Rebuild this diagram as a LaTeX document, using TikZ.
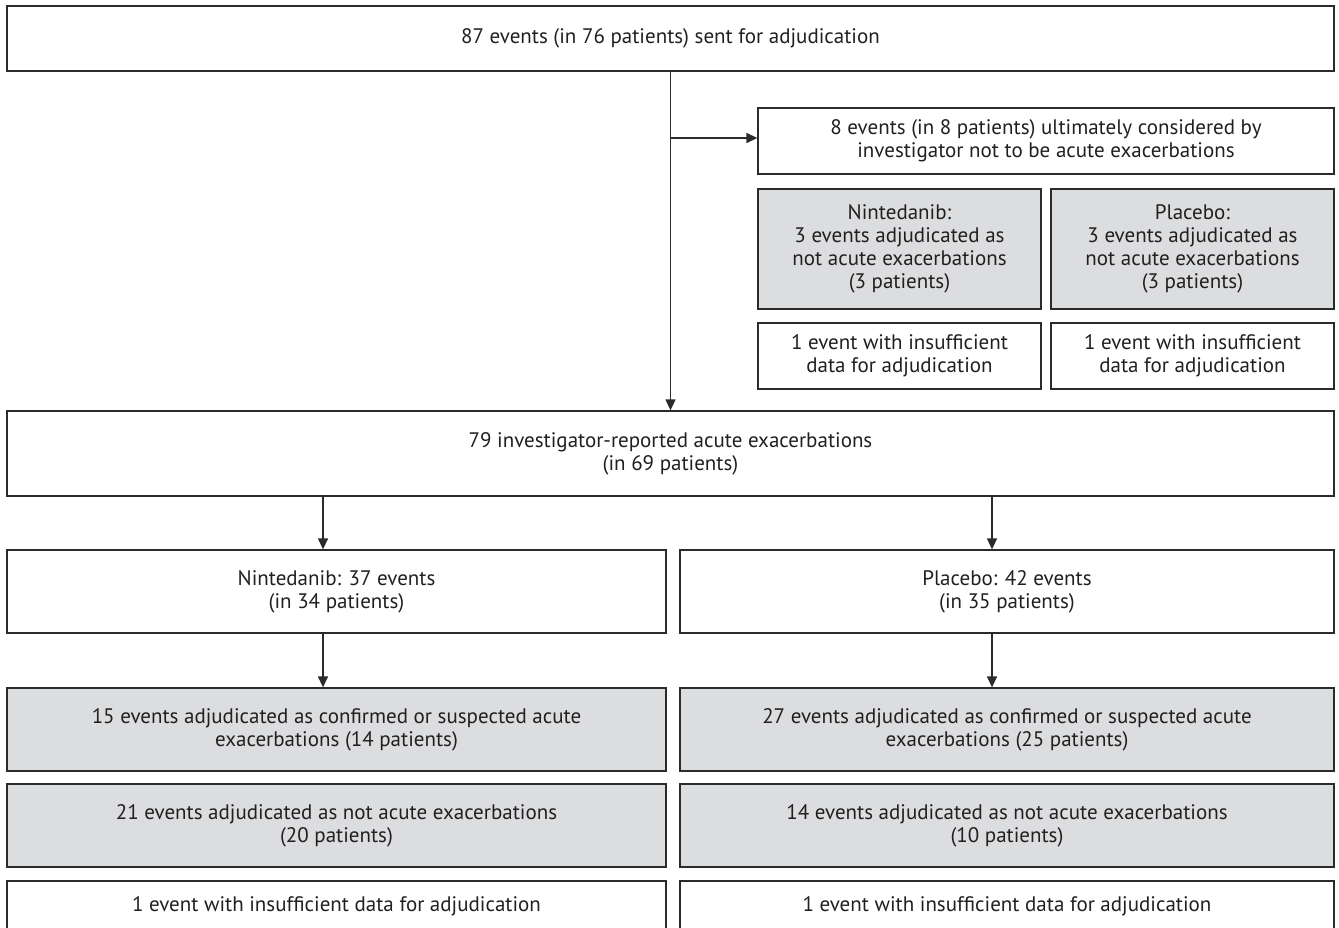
\documentclass[tikz,border=0pt]{standalone}
\usepackage{fontspec}
\setmainfont{PT Sans}
\usetikzlibrary{arrows.meta}
\definecolor{boxline}{HTML}{2B2B2B}
\definecolor{boxgray}{HTML}{DCDDDF}
\definecolor{boxtext}{HTML}{231F20}
\begin{document}
\begin{tikzpicture}[
	x=1pt, y=-1pt,
	cell/.style={
		rectangle,
		draw=boxline,
		line width=1.3pt,
		align=center,
		text=boxtext,
		inner sep=0pt,
		font=\fontsize{21}{23}\selectfont
	},
	wide/.style={cell, minimum width=1327, minimum height=#1},
	half/.style={cell, minimum width=659, minimum height=#1},
	halfR/.style={cell, minimum width=654, minimum height=#1},
	side/.style={cell, minimum width=283, minimum height=#1},
	shaded/.style={fill=boxgray},
	ArrowC1/.style={% plain connectors with a filled head
		-{Triangle[length=11pt,width=10pt]},
		draw=boxline,
		line width=1.3pt,
	},
]
	\useasboundingbox (0,0) rectangle (1339,928);
	\clip (0,0) rectangle (1339,928);

	\node [wide=65] (sent) at (670.5,38.5) {87 events (in 76 patients) sent for adjudication};

	\node [cell, minimum width=576, minimum height=66] (excl) at (1046,141) {8 events (in 8 patients) ultimately considered by\\investigator not to be acute exacerbations};
	\node [side=120, shaded] (exclN) at (899.5,249) {Nintedanib:\\3 events adjudicated as\\not acute exacerbations\\(3 patients)};
	\node [side=120, shaded] (exclP) at (1192.5,249) {Placebo:\\3 events adjudicated as\\not acute exacerbations\\(3 patients)};
	\node [side=66] (exclNi) at (899.5,356) {1 event with insufficient\\data for adjudication};
	\node [side=66] (exclPi) at (1192.5,356) {1 event with insufficient\\data for adjudication};

	\node [wide=85] (reported) at (670.5,453.5) {79 investigator-reported acute exacerbations\\(in 69 patients)};

	\node [half=83] (nint) at (336.5,591.5) {Nintedanib: 37 events\\(in 34 patients)};
	\node [halfR=83] (plac) at (1007,591.5) {Placebo: 42 events\\(in 35 patients)};

	\node [half=83, shaded] (nintConf) at (336.5,729.5) {15 events adjudicated as confirmed or suspected acute\\exacerbations (14 patients)};
	\node [halfR=83, shaded] (placConf) at (1007,729.5) {27 events adjudicated as confirmed or suspected acute\\exacerbations (25 patients)};
	\node [half=83, shaded] (nintNot) at (336.5,825.5) {21 events adjudicated as not acute exacerbations\\(20 patients)};
	\node [halfR=83, shaded] (placNot) at (1007,825.5) {14 events adjudicated as not acute exacerbations\\(10 patients)};
	\node [half=50] (nintIns) at (336.5,906) {1 event with insufficient data for adjudication};
	\node [halfR=50] (placIns) at (1007,906) {1 event with insufficient data for adjudication};

	\coordinate (split) at ([yshift=3pt]sent.south |- excl.west);

	\draw [ArrowC1] (sent.south) -- (reported.north);
	\draw [ArrowC1] (split) -- (split -| excl.west);
	\draw [ArrowC1] ([xshift=-13.5pt]nint.north |- reported.south) -- ([xshift=-13.5pt]nint.north);
	\draw [ArrowC1] ([xshift=-15pt]plac.north |- reported.south) -- ([xshift=-15pt]plac.north);
	\draw [ArrowC1] ([xshift=-13.5pt]nint.south) -- ([xshift=-13.5pt]nintConf.north);
	\draw [ArrowC1] ([xshift=-15pt]plac.south) -- ([xshift=-15pt]placConf.north);
\end{tikzpicture}
\end{document}
